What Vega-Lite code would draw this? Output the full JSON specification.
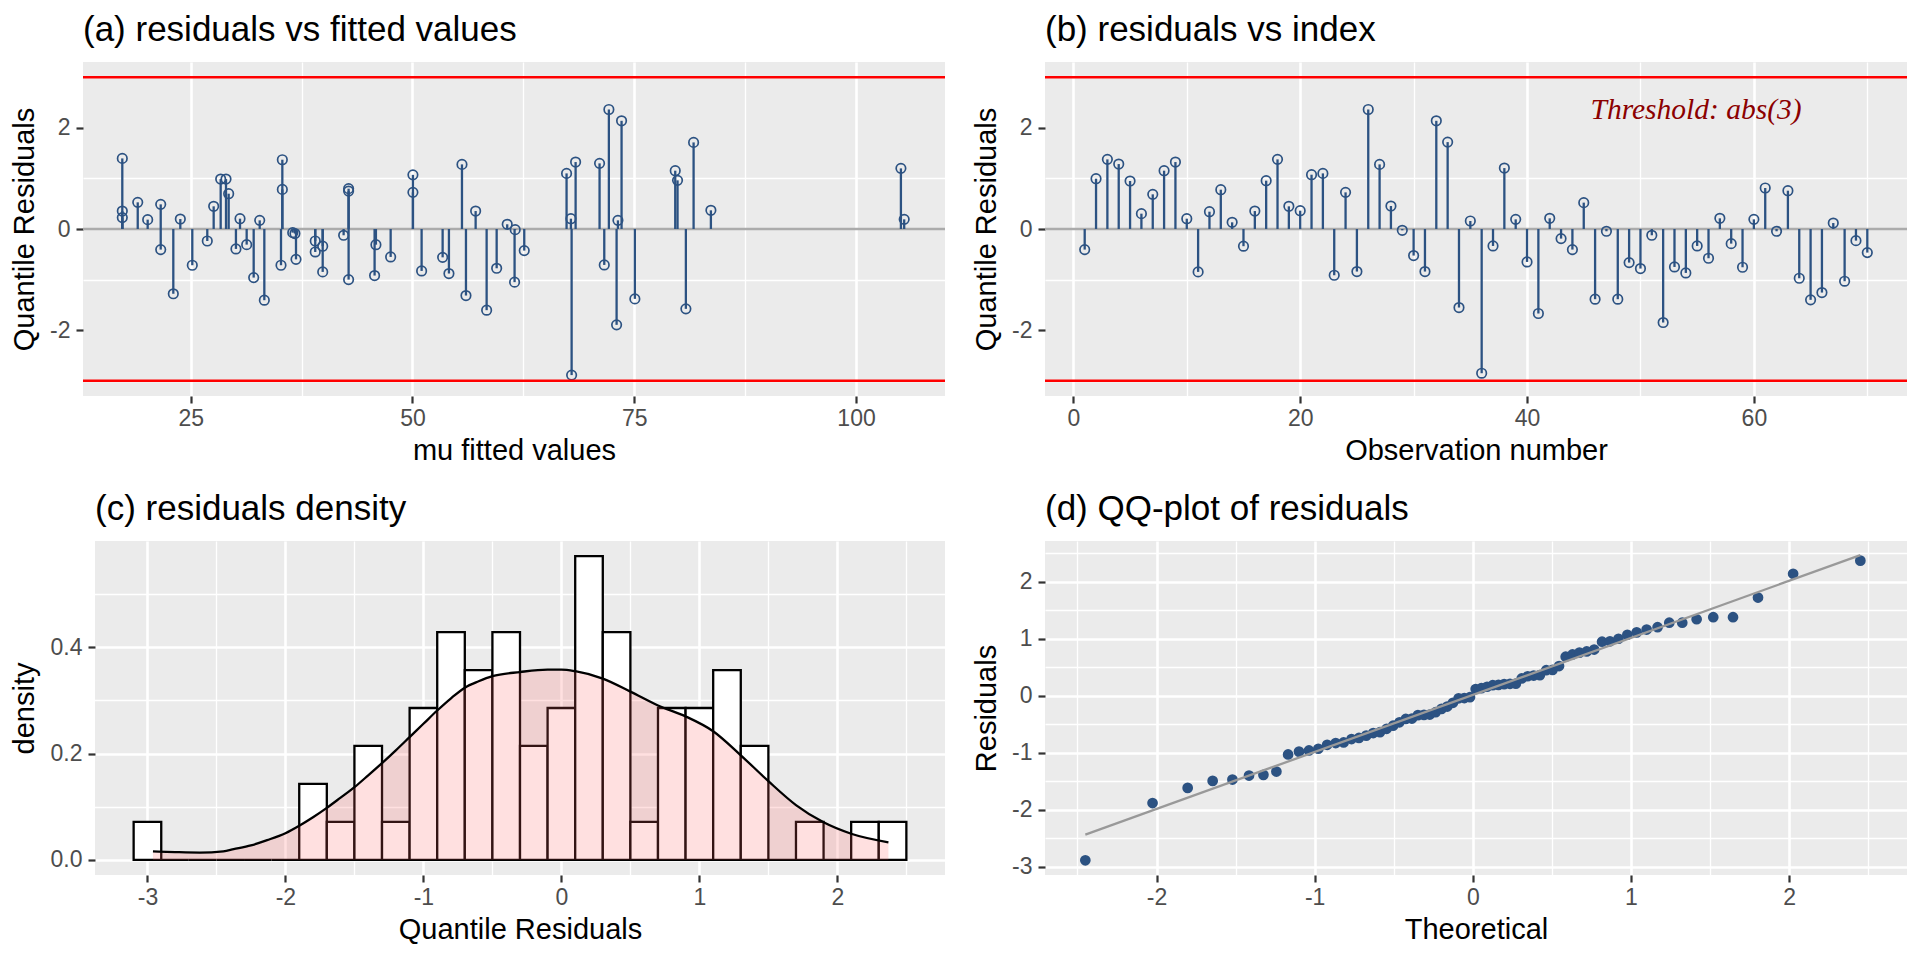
{
 "$schema": "https://vega.github.io/schema/vega-lite/v6.json",
 "padding": {"left": 10, "top": 12, "right": 15, "bottom": 15},
 "background": "#FFFFFF",
 "columns": 2,
 "align": "none",
 "spacing": {"row": 26, "column": 25},
 "datasets": {
  "hlines": [{"t": 0, "kind": "zero"}, {"t": 3, "kind": "threshold"}, {"t": -3, "kind": "threshold"}],
  "mask": [{"part": "left strip"}],
  "note": [{"obs": 54.9, "res": 2.18, "label": "Threshold: abs(3)"}],
  "fitted": [
   {"mu": 17.29, "res": 1.395}, {"mu": 17.29, "res": 0.355}, {"mu": 17.29, "res": 0.225}, {"mu": 19.03, "res": 0.527},
   {"mu": 20.15, "res": 0.185}, {"mu": 21.62, "res": 0.487}, {"mu": 21.62, "res": -0.407}, {"mu": 23.04, "res": -1.28},
   {"mu": 23.83, "res": 0.197}, {"mu": 25.18, "res": -0.716}, {"mu": 26.87, "res": -0.237}, {"mu": 27.59, "res": 0.448},
   {"mu": 28.38, "res": 0.987}, {"mu": 28.98, "res": 0.987}, {"mu": 29.28, "res": 0.698}, {"mu": 30.1, "res": -0.394},
   {"mu": 30.56, "res": 0.204}, {"mu": 31.31, "res": -0.309}, {"mu": 32.1, "res": -0.96}, {"mu": 32.78, "res": 0.171},
   {"mu": 33.3, "res": -1.407}, {"mu": 35.33, "res": 1.369}, {"mu": 35.33, "res": 0.783}, {"mu": 35.18, "res": -0.716},
   {"mu": 36.5, "res": -0.072}, {"mu": 36.75, "res": -0.09}, {"mu": 36.87, "res": -0.6}, {"mu": 39.04, "res": -0.237},
   {"mu": 39.04, "res": -0.454}, {"mu": 39.88, "res": -0.34}, {"mu": 39.88, "res": -0.848}, {"mu": 42.24, "res": -0.124},
   {"mu": 42.8, "res": 0.797}, {"mu": 42.8, "res": 0.75}, {"mu": 42.8, "res": -1.0}, {"mu": 45.73, "res": -0.92},
   {"mu": 45.88, "res": -0.31}, {"mu": 47.54, "res": -0.552}, {"mu": 50.05, "res": 1.07}, {"mu": 50.05, "res": 0.724},
   {"mu": 51.03, "res": -0.829}, {"mu": 53.4, "res": -0.56}, {"mu": 54.11, "res": -0.88}, {"mu": 55.58, "res": 1.277},
   {"mu": 56.03, "res": -1.315}, {"mu": 57.12, "res": 0.355}, {"mu": 58.36, "res": -1.604}, {"mu": 59.49, "res": -0.776},
   {"mu": 60.68, "res": 0.093}, {"mu": 61.58, "res": -0.013}, {"mu": 61.51, "res": -1.05}, {"mu": 62.6, "res": -0.427},
   {"mu": 67.37, "res": 1.099}, {"mu": 67.86, "res": 0.204}, {"mu": 67.94, "res": -2.887}, {"mu": 68.39, "res": 1.323},
   {"mu": 71.09, "res": 1.297}, {"mu": 71.62, "res": -0.71}, {"mu": 72.14, "res": 2.362}, {"mu": 73.16, "res": 0.171},
   {"mu": 73.01, "res": -1.894}, {"mu": 73.57, "res": 2.138}, {"mu": 75.07, "res": -1.381}, {"mu": 79.62, "res": 1.152},
   {"mu": 79.88, "res": 0.961}, {"mu": 80.82, "res": -1.578}, {"mu": 81.69, "res": 1.711}, {"mu": 83.64, "res": 0.369},
   {"mu": 105.06, "res": 1.198}, {"mu": 105.43, "res": 0.191}
  ],
  "index": [
   {"obs": 1, "res": -0.407}, {"obs": 2, "res": 0.994}, {"obs": 3, "res": 1.376}, {"obs": 4, "res": 1.283},
   {"obs": 5, "res": 0.948}, {"obs": 6, "res": 0.303}, {"obs": 7, "res": 0.685}, {"obs": 8, "res": 1.152},
   {"obs": 9, "res": 1.323}, {"obs": 10, "res": 0.204}, {"obs": 11, "res": -0.848}, {"obs": 12, "res": 0.342},
   {"obs": 13, "res": 0.777}, {"obs": 14, "res": 0.132}, {"obs": 15, "res": -0.34}, {"obs": 16, "res": 0.355},
   {"obs": 17, "res": 0.955}, {"obs": 18, "res": 1.376}, {"obs": 19, "res": 0.448}, {"obs": 20, "res": 0.362},
   {"obs": 21, "res": 1.073}, {"obs": 22, "res": 1.099}, {"obs": 23, "res": -0.914}, {"obs": 24, "res": 0.724},
   {"obs": 25, "res": -0.841}, {"obs": 26, "res": 2.362}, {"obs": 27, "res": 1.277}, {"obs": 28, "res": 0.454},
   {"obs": 29, "res": -0.026}, {"obs": 30, "res": -0.525}, {"obs": 31, "res": -0.841}, {"obs": 32, "res": 2.138},
   {"obs": 33, "res": 1.717}, {"obs": 34, "res": -1.552}, {"obs": 35, "res": 0.158}, {"obs": 36, "res": -2.85},
   {"obs": 37, "res": -0.335}, {"obs": 38, "res": 1.204}, {"obs": 39, "res": 0.191}, {"obs": 40, "res": -0.651},
   {"obs": 41, "res": -1.67}, {"obs": 42, "res": 0.211}, {"obs": 43, "res": -0.19}, {"obs": 44, "res": -0.407},
   {"obs": 45, "res": 0.521}, {"obs": 46, "res": -1.387}, {"obs": 47, "res": -0.045}, {"obs": 48, "res": -1.387},
   {"obs": 49, "res": -0.664}, {"obs": 50, "res": -0.782}, {"obs": 51, "res": -0.124}, {"obs": 52, "res": -1.848},
   {"obs": 53, "res": -0.75}, {"obs": 54, "res": -0.868}, {"obs": 55, "res": -0.335}, {"obs": 56, "res": -0.578},
   {"obs": 57, "res": 0.211}, {"obs": 58, "res": -0.289}, {"obs": 59, "res": -0.756}, {"obs": 60, "res": 0.191},
   {"obs": 61, "res": 0.81}, {"obs": 62, "res": -0.045}, {"obs": 63, "res": 0.757}, {"obs": 64, "res": -0.973},
   {"obs": 65, "res": -1.4}, {"obs": 66, "res": -1.256}, {"obs": 67, "res": 0.118}, {"obs": 68, "res": -1.032},
   {"obs": 69, "res": -0.23}, {"obs": 70, "res": -0.466}
  ],
  "hist": [
   {"lo": -3.1, "hi": -2.9, "dens": 0.0714}, {"lo": -2.9, "hi": -2.7, "dens": 0}, {"lo": -2.7, "hi": -2.5, "dens": 0},
   {"lo": -2.5, "hi": -2.3, "dens": 0}, {"lo": -2.3, "hi": -2.1, "dens": 0}, {"lo": -2.1, "hi": -1.9, "dens": 0},
   {"lo": -1.9, "hi": -1.7, "dens": 0.1429}, {"lo": -1.7, "hi": -1.5, "dens": 0.0714}, {"lo": -1.5, "hi": -1.3, "dens": 0.2143},
   {"lo": -1.3, "hi": -1.1, "dens": 0.0714}, {"lo": -1.1, "hi": -0.9, "dens": 0.2857}, {"lo": -0.9, "hi": -0.7, "dens": 0.4286},
   {"lo": -0.7, "hi": -0.5, "dens": 0.3571}, {"lo": -0.5, "hi": -0.3, "dens": 0.4286}, {"lo": -0.3, "hi": -0.1, "dens": 0.2143},
   {"lo": -0.1, "hi": 0.1, "dens": 0.2857}, {"lo": 0.1, "hi": 0.3, "dens": 0.5714}, {"lo": 0.3, "hi": 0.5, "dens": 0.4286},
   {"lo": 0.5, "hi": 0.7, "dens": 0.0714}, {"lo": 0.7, "hi": 0.9, "dens": 0.2857}, {"lo": 0.9, "hi": 1.1, "dens": 0.2857},
   {"lo": 1.1, "hi": 1.3, "dens": 0.3571}, {"lo": 1.3, "hi": 1.5, "dens": 0.2143}, {"lo": 1.5, "hi": 1.7, "dens": 0},
   {"lo": 1.7, "hi": 1.9, "dens": 0.0714}, {"lo": 1.9, "hi": 2.1, "dens": 0}, {"lo": 2.1, "hi": 2.3, "dens": 0.0714},
   {"lo": 2.3, "hi": 2.5, "dens": 0.0714}
  ],
  "dens": [
   {"q": -2.96, "d": 0.0158}, {"q": -2.8, "d": 0.0145}, {"q": -2.62, "d": 0.0136}, {"q": -2.45, "d": 0.016},
   {"q": -2.375, "d": 0.02}, {"q": -2.25, "d": 0.027}, {"q": -2.133, "d": 0.0369}, {"q": -2.0, "d": 0.05},
   {"q": -1.9, "d": 0.064}, {"q": -1.8, "d": 0.08}, {"q": -1.7, "d": 0.0977}, {"q": -1.6, "d": 0.117},
   {"q": -1.5, "d": 0.1366}, {"q": -1.4, "d": 0.159}, {"q": -1.3, "d": 0.1819}, {"q": -1.2, "d": 0.206},
   {"q": -1.1, "d": 0.231}, {"q": -1.0, "d": 0.256}, {"q": -0.9, "d": 0.281}, {"q": -0.8, "d": 0.304},
   {"q": -0.7, "d": 0.324}, {"q": -0.6, "d": 0.336}, {"q": -0.5, "d": 0.3456}, {"q": -0.3, "d": 0.3534},
   {"q": -0.1, "d": 0.358}, {"q": 0.0, "d": 0.358}, {"q": 0.1, "d": 0.355}, {"q": 0.3, "d": 0.341},
   {"q": 0.5, "d": 0.3165}, {"q": 0.7, "d": 0.2905}, {"q": 0.9, "d": 0.27}, {"q": 1.1, "d": 0.242},
   {"q": 1.3, "d": 0.1967}, {"q": 1.5, "d": 0.148}, {"q": 1.7, "d": 0.103}, {"q": 1.9, "d": 0.0705},
   {"q": 2.1, "d": 0.049}, {"q": 2.37, "d": 0.033}
  ],
  "qq": [
   {"theo": -2.45, "sample": -2.887}, {"theo": -2.025, "sample": -1.882}, {"theo": -1.803, "sample": -1.617}, {"theo": -1.645, "sample": -1.494},
   {"theo": -1.52, "sample": -1.47}, {"theo": -1.415, "sample": -1.4}, {"theo": -1.324, "sample": -1.388}, {"theo": -1.242, "sample": -1.33},
   {"theo": -1.168, "sample": -1.03}, {"theo": -1.099, "sample": -0.98}, {"theo": -1.036, "sample": -0.96}, {"theo": -0.977, "sample": -0.93},
   {"theo": -0.921, "sample": -0.86}, {"theo": -0.867, "sample": -0.83}, {"theo": -0.817, "sample": -0.82}, {"theo": -0.767, "sample": -0.76},
   {"theo": -0.72, "sample": -0.74}, {"theo": -0.674, "sample": -0.7}, {"theo": -0.63, "sample": -0.655}, {"theo": -0.587, "sample": -0.64},
   {"theo": -0.545, "sample": -0.58}, {"theo": -0.504, "sample": -0.525}, {"theo": -0.464, "sample": -0.466}, {"theo": -0.424, "sample": -0.407},
   {"theo": -0.385, "sample": -0.4}, {"theo": -0.347, "sample": -0.34}, {"theo": -0.309, "sample": -0.335}, {"theo": -0.272, "sample": -0.33},
   {"theo": -0.235, "sample": -0.289}, {"theo": -0.198, "sample": -0.23}, {"theo": -0.162, "sample": -0.19}, {"theo": -0.126, "sample": -0.124},
   {"theo": -0.09, "sample": -0.045}, {"theo": -0.054, "sample": -0.04}, {"theo": -0.018, "sample": -0.026}, {"theo": 0.018, "sample": 0.118},
   {"theo": 0.054, "sample": 0.132}, {"theo": 0.09, "sample": 0.158}, {"theo": 0.126, "sample": 0.185}, {"theo": 0.162, "sample": 0.191},
   {"theo": 0.198, "sample": 0.204}, {"theo": 0.235, "sample": 0.21}, {"theo": 0.272, "sample": 0.211}, {"theo": 0.309, "sample": 0.303},
   {"theo": 0.347, "sample": 0.342}, {"theo": 0.385, "sample": 0.355}, {"theo": 0.424, "sample": 0.362}, {"theo": 0.464, "sample": 0.448},
   {"theo": 0.504, "sample": 0.454}, {"theo": 0.545, "sample": 0.521}, {"theo": 0.587, "sample": 0.685}, {"theo": 0.63, "sample": 0.724},
   {"theo": 0.674, "sample": 0.757}, {"theo": 0.72, "sample": 0.777}, {"theo": 0.767, "sample": 0.81}, {"theo": 0.817, "sample": 0.948},
   {"theo": 0.867, "sample": 0.955}, {"theo": 0.921, "sample": 1.0}, {"theo": 0.977, "sample": 1.07}, {"theo": 1.036, "sample": 1.112},
   {"theo": 1.099, "sample": 1.161}, {"theo": 1.168, "sample": 1.203}, {"theo": 1.242, "sample": 1.282}, {"theo": 1.324, "sample": 1.282},
   {"theo": 1.415, "sample": 1.342}, {"theo": 1.52, "sample": 1.378}, {"theo": 1.645, "sample": 1.378}, {"theo": 1.803, "sample": 1.723},
   {"theo": 2.025, "sample": 2.14}, {"theo": 2.45, "sample": 2.37}
  ],
  "qqline": [{"xa": -2.45, "ya": -2.437, "xb": 2.45, "yb": 2.467}]
 },
 "concat": [
  {
   "title": "(a) residuals vs fitted values",
   "width": 862, "height": 334,
   "layer": [
    {
     "data": {"name": "hlines"},
     "transform": [{"filter": "datum.kind == 'zero'"}],
     "mark": {"type": "rule", "color": "#ABABAB", "strokeWidth": 2.4},
     "encoding": {"y": {"field": "t", "type": "quantitative", "scale": {"domain": [-3.3, 3.3], "nice": false, "zero": false}, "axis": null}}
    },
    {
     "data": {"name": "fitted"},
     "mark": {"type": "rule", "color": "#2C5282", "strokeWidth": 2.3},
     "encoding": {
      "x": {"field": "mu", "type": "quantitative", "scale": {"domain": [12.86, 110.03], "nice": false, "zero": false},
            "axis": {"orient": "bottom", "title": "mu fitted values", "values": [25, 50, 75, 100]}},
      "y": {"field": "res", "type": "quantitative", "scale": {"domain": [-3.3, 3.3], "nice": false, "zero": false},
            "axis": {"orient": "left", "title": "Quantile Residuals", "values": [-2, 0, 2], "minExtent": 34, "maxExtent": 34, "labelExpr": "replace(datum.label, '\u2212', '-')"}},
      "y2": {"datum": 0}
     }
    },
    {
     "data": {"name": "fitted"},
     "mark": {"type": "point", "shape": "circle", "filled": false, "color": "#2C5282", "strokeWidth": 1.7, "size": 90, "opacity": 1},
     "encoding": {
      "x": {"field": "mu", "type": "quantitative", "scale": {"domain": [12.86, 110.03], "nice": false, "zero": false},
            "axis": {"orient": "top", "values": [37.5, 62.5, 87.5], "grid": true, "gridWidth": 1.3, "labels": false, "ticks": false, "domain": false, "title": null}},
      "y": {"field": "res", "type": "quantitative", "scale": {"domain": [-3.3, 3.3], "nice": false, "zero": false},
            "axis": {"orient": "right", "values": [-3, -1, 1, 3], "grid": true, "gridWidth": 1.3, "labels": false, "ticks": false, "domain": false, "title": null}}
     }
    },
    {
     "data": {"name": "hlines"},
     "transform": [{"filter": "datum.kind == 'threshold'"}],
     "mark": {"type": "rule", "color": "#FF0000", "strokeWidth": 2.5},
     "encoding": {"y": {"field": "t", "type": "quantitative", "scale": {"domain": [-3.3, 3.3], "nice": false, "zero": false}, "axis": null}}
    }
   ]
  },
  {
   "title": "(b) residuals vs index",
   "width": 862, "height": 334,
   "layer": [
    {
     "data": {"name": "hlines"},
     "transform": [{"filter": "datum.kind == 'zero'"}],
     "mark": {"type": "rule", "color": "#ABABAB", "strokeWidth": 2.4},
     "encoding": {"y": {"field": "t", "type": "quantitative", "scale": {"domain": [-3.3, 3.3], "nice": false, "zero": false}, "axis": null}}
    },
    {
     "data": {"name": "index"},
     "mark": {"type": "rule", "color": "#2C5282", "strokeWidth": 2.3},
     "encoding": {
      "x": {"field": "obs", "type": "quantitative", "scale": {"domain": [-2.5, 73.5], "nice": false, "zero": false},
            "axis": {"orient": "bottom", "title": "Observation number", "values": [0, 20, 40, 60]}},
      "y": {"field": "res", "type": "quantitative", "scale": {"domain": [-3.3, 3.3], "nice": false, "zero": false},
            "axis": {"orient": "left", "title": "Quantile Residuals", "values": [-2, 0, 2], "minExtent": 34, "maxExtent": 34, "labelExpr": "replace(datum.label, '\u2212', '-')"}},
      "y2": {"datum": 0}
     }
    },
    {
     "data": {"name": "index"},
     "mark": {"type": "point", "shape": "circle", "filled": false, "color": "#2C5282", "strokeWidth": 1.7, "size": 90, "opacity": 1},
     "encoding": {
      "x": {"field": "obs", "type": "quantitative", "scale": {"domain": [-2.5, 73.5], "nice": false, "zero": false},
            "axis": {"orient": "top", "values": [10, 30, 50, 70], "grid": true, "gridWidth": 1.3, "labels": false, "ticks": false, "domain": false, "title": null}},
      "y": {"field": "res", "type": "quantitative", "scale": {"domain": [-3.3, 3.3], "nice": false, "zero": false},
            "axis": {"orient": "right", "values": [-3, -1, 1, 3], "grid": true, "gridWidth": 1.3, "labels": false, "ticks": false, "domain": false, "title": null}}
     }
    },
    {
     "data": {"name": "hlines"},
     "transform": [{"filter": "datum.kind == 'threshold'"}],
     "mark": {"type": "rule", "color": "#FF0000", "strokeWidth": 2.5},
     "encoding": {"y": {"field": "t", "type": "quantitative", "scale": {"domain": [-3.3, 3.3], "nice": false, "zero": false}, "axis": null}}
    },
    {
     "data": {"name": "note"},
     "mark": {"type": "text", "font": "Liberation Serif", "fontStyle": "italic", "fontSize": 29.5, "color": "#8B0000", "align": "center", "baseline": "alphabetic"},
     "encoding": {
      "x": {"field": "obs", "type": "quantitative", "scale": {"domain": [-2.5, 73.5], "nice": false, "zero": false}, "axis": null},
      "y": {"field": "res", "type": "quantitative", "scale": {"domain": [-3.3, 3.3], "nice": false, "zero": false}, "axis": null},
      "text": {"field": "label"}
     }
    }
   ]
  },
  {
   "title": {"text": "(c) residuals density", "dx": 12},
   "width": 862, "height": 334,
   "layer": [
    {
     "data": {"name": "hist"},
     "mark": {"type": "rect", "fill": "#FFFFFF", "stroke": "#000000", "strokeWidth": 2.3},
     "encoding": {
      "x": {"field": "lo", "type": "quantitative", "scale": {"domain": [-3.467, 2.78], "nice": false, "zero": false},
            "axis": {"orient": "bottom", "title": "Quantile Residuals", "titleX": 437, "values": [-3, -2, -1, 0, 1, 2], "labelExpr": "replace(datum.label, '\u2212', '-')"}},
      "x2": {"field": "hi"},
      "y": {"field": "dens", "type": "quantitative", "scale": {"domain": [-0.0286, 0.6], "nice": false, "zero": false},
            "axis": {"orient": "left", "title": "density", "values": [0, 0.2, 0.4], "format": ".1f", "grid": false, "zindex": 1, "offset": -12, "minExtent": 46, "maxExtent": 46}},
      "y2": {"datum": 0}
     }
    },
    {
     "data": {"name": "dens"},
     "mark": {"type": "area", "color": "#FF6666", "opacity": 0.2, "interpolate": "monotone"},
     "encoding": {
      "x": {"field": "q", "type": "quantitative", "scale": {"domain": [-3.467, 2.78], "nice": false, "zero": false},
            "axis": {"orient": "top", "values": [-2.5, -1.5, -0.5, 0.5, 1.5, 2.5], "grid": true, "gridWidth": 1.3, "labels": false, "ticks": false, "domain": false, "title": null}},
      "y": {"field": "d", "type": "quantitative", "scale": {"domain": [-0.0286, 0.6], "nice": false, "zero": false},
            "axis": {"orient": "right", "values": [0, 0.1, 0.2, 0.3, 0.4, 0.5], "grid": true,
                     "gridWidth": {"condition": {"test": "indexof([0, 0.2, 0.4], datum.value) >= 0", "value": 2.6}, "value": 1.3},
                     "labels": false, "ticks": false, "domain": false, "title": null}},
      "y2": {"datum": 0}
     }
    },
    {
     "data": {"name": "dens"},
     "mark": {"type": "line", "color": "#000000", "strokeWidth": 2.3, "interpolate": "monotone"},
     "encoding": {
      "x": {"field": "q", "type": "quantitative", "scale": {"domain": [-3.467, 2.78], "nice": false, "zero": false}, "axis": null},
      "y": {"field": "d", "type": "quantitative", "scale": {"domain": [-0.0286, 0.6], "nice": false, "zero": false}, "axis": null}
     }
    },
    {
     "data": {"name": "mask"},
     "mark": {"type": "rect", "fill": "#FFFFFF", "stroke": null},
     "encoding": {
      "x": {"datum": -3.467, "type": "quantitative", "scale": {"domain": [-3.467, 2.78], "nice": false, "zero": false}, "axis": null},
      "x2": {"datum": -3.38},
      "y": {"datum": -0.0286, "type": "quantitative", "scale": {"domain": [-0.0286, 0.6], "nice": false, "zero": false}, "axis": null},
      "y2": {"datum": 0.6}
     }
    }
   ]
  },
  {
   "title": "(d) QQ-plot of residuals",
   "width": 862, "height": 334,
   "layer": [
    {
     "data": {"name": "qq"},
     "mark": {"type": "circle", "color": "#2C5282", "size": 115, "opacity": 1},
     "encoding": {
      "x": {"field": "theo", "type": "quantitative", "scale": {"domain": [-2.705, 2.745], "nice": false, "zero": false},
            "axis": {"orient": "bottom", "title": "Theoretical", "values": [-2, -1, 0, 1, 2], "labelExpr": "replace(datum.label, '\u2212', '-')"}},
      "y": {"field": "sample", "type": "quantitative", "scale": {"domain": [-3.145, 2.715], "nice": false, "zero": false},
            "axis": {"orient": "left", "title": "Residuals", "values": [-3, -2, -1, 0, 1, 2], "minExtent": 34, "maxExtent": 34, "labelExpr": "replace(datum.label, '\u2212', '-')"}}
     }
    },
    {
     "data": {"name": "qqline"},
     "mark": {"type": "rule", "color": "#999999", "strokeWidth": 2.3},
     "encoding": {
      "x": {"field": "xa", "type": "quantitative", "scale": {"domain": [-2.705, 2.745], "nice": false, "zero": false},
            "axis": {"orient": "top", "values": [-2.5, -1.5, -0.5, 0.5, 1.5, 2.5], "grid": true, "gridWidth": 1.3, "labels": false, "ticks": false, "domain": false, "title": null}},
      "y": {"field": "ya", "type": "quantitative", "scale": {"domain": [-3.145, 2.715], "nice": false, "zero": false},
            "axis": {"orient": "right", "values": [-2.5, -1.5, -0.5, 0.5, 1.5, 2.5], "grid": true, "gridWidth": 1.3, "labels": false, "ticks": false, "domain": false, "title": null}},
      "x2": {"field": "xb"},
      "y2": {"field": "yb"}
     }
    }
   ]
  }
 ],
 "config": {
  "view": {"stroke": null, "fill": "#EBEBEB"},
  "axis": {
   "domain": false, "tickColor": "#333333", "tickWidth": 2.2, "tickSize": 7,
   "labelFont": "Liberation Sans", "labelFontSize": 23, "labelColor": "#4D4D4D",
   "titleFont": "Liberation Sans", "titleFontSize": 29, "titleFontWeight": "normal", "titleColor": "#000000",
   "grid": true, "gridColor": "#FFFFFF", "gridWidth": 2.6, "gridOpacity": 1,
   "labelFlush": false, "labelOverlap": false
  },
  "axisX": {"labelPadding": 4, "titlePadding": 6},
  "axisY": {"labelPadding": 6, "titlePadding": 10},
  "title": {"font": "Liberation Sans", "fontSize": 35, "fontWeight": "normal", "color": "#000000", "anchor": "start", "frame": "group", "baseline": "alphabetic", "offset": 14.5}
 }
}
